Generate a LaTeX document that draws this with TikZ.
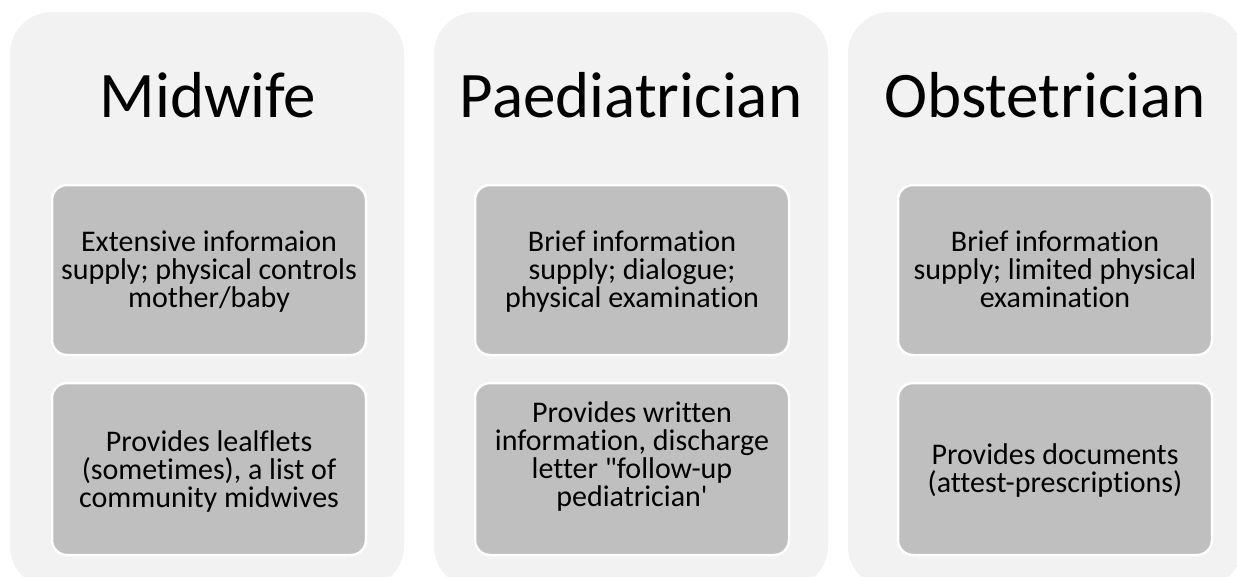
\documentclass[tikz,border=0pt]{standalone}
\usepackage{fontspec}
\setmainfont{Carlito}[Ligatures={TeXOff,NoCommon}]
\begin{document}
\begin{tikzpicture}[x=1pt,y=-1pt,
  outerbox/.style={fill=outerfill, draw=none, rounded corners=42pt},
  innerbox/.style={fill=innerfill, draw=white, line width=2.5pt, rounded corners=15pt},
  titletext/.style={anchor=base, inner sep=0pt, font=\fontsize{65}{70}\selectfont},
  bodytext/.style={align=center, inner sep=0pt, font=\fontsize{30}{28}\selectfont}]
\definecolor{outerfill}{HTML}{F2F2F2}
\definecolor{innerfill}{HTML}{BFBFBF}
\useasboundingbox (0,0) rectangle (1237,576);
\clip (0,0) rectangle (1237,576);
% columns
\path[outerbox] (10,12) rectangle (404,588);
\path[outerbox] (434,12) rectangle (828,588);
\path[outerbox] (848,12) rectangle (1242,588);
% titles
\node[titletext] (t1) at (208,117) {Midwife};
\node[titletext] (t2) at (631,117) {Paediatrician};
\node[titletext] (t3) at (1045,117) {Obstetrician};
% inner boxes
\path[innerbox] (52,185) rectangle (366,355);
\path[innerbox] (52,383) rectangle (366,555);
\path[innerbox] (475,185) rectangle (789,355);
\path[innerbox] (475,383) rectangle (789,555);
\path[innerbox] (898,185) rectangle (1212,355);
\path[innerbox] (898,383) rectangle (1212,555);
% texts
\node[bodytext] (a1) at (209,272) {Extensive informaion\\supply; physical controls\\mother/baby};
\node[bodytext] (a2) at (209,471) {Provides lealflets\\(sometimes), a list of\\community midwives};
\node[bodytext] (b1) at (632,272) {Brief information\\supply; dialogue;\\physical examination};
\node[bodytext] (b2) at (632,456) {Provides written\\information, discharge\\letter "follow-up\\pediatrician'};
\node[bodytext] (c1) at (1055,269) {Brief information\\supply; limited physical\\examination};
\node[bodytext] (c2) at (1055,470) {Provides documents\\(attest-prescriptions)};
\end{tikzpicture}
\end{document}
